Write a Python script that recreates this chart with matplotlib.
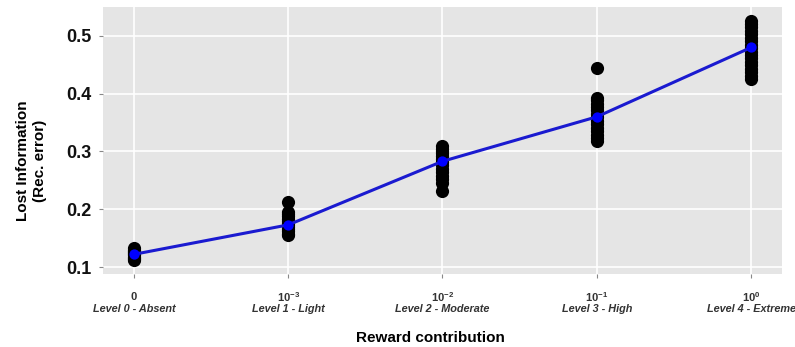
import numpy as np
import matplotlib.pyplot as plt

plt.rcParams['font.family'] = ['Liberation Sans', 'DejaVu Sans']
plt.rcParams['mathtext.fontset'] = 'custom'
plt.rcParams['mathtext.rm'] = 'Liberation Sans:bold'
plt.rcParams['mathtext.bf'] = 'Liberation Sans:bold'

# reward levels and tick text
powers = ['0', r'$\mathbf{10^{-3}}$', r'$\mathbf{10^{-2}}$', r'$\mathbf{10^{-1}}$', r'$\mathbf{10^{0}}$']
level_names = ['Level 0 - Absent', 'Level 1 - Light', 'Level 2 - Moderate',
               'Level 3 - High', 'Level 4 - Extreme']

# reconstruction error for each run, per level
lvl0 = [0.112, 0.114, 0.116, 0.118, 0.120, 0.122, 0.124, 0.126, 0.128, 0.130, 0.133]
lvl1 = [0.155, 0.158, 0.162, 0.166, 0.170, 0.173, 0.176, 0.180, 0.184, 0.188, 0.192, 0.196, 0.212]
lvl2 = [0.232, 0.245, 0.252, 0.258, 0.264, 0.270, 0.276, 0.282, 0.287, 0.292,
        0.297, 0.301, 0.305, 0.310]
lvl3 = [0.318, 0.323, 0.329, 0.335, 0.341, 0.347, 0.353, 0.359, 0.365, 0.371,
        0.377, 0.383, 0.389, 0.393, 0.445]
lvl4 = [0.425, 0.431, 0.437, 0.443, 0.449, 0.455, 0.461, 0.467, 0.473, 0.479,
        0.485, 0.491, 0.497, 0.503, 0.509, 0.515, 0.520, 0.525]
means = [0.122, 0.173, 0.283, 0.360, 0.480]

runs = [lvl0, lvl1, lvl2, lvl3, lvl4]
x = np.arange(len(runs))

fig = plt.figure(figsize=(7.95, 3.47), dpi=100)
ax = fig.add_axes([0.1296, 0.2104, 0.8540, 0.7694])
ax.set_facecolor('#e5e5e5')

ax.grid(True, color='white', linewidth=1.2)
ax.set_axisbelow(True)
for s in ax.spines.values():
    s.set_visible(False)

for i, vals in enumerate(runs):
    ax.scatter(np.full(len(vals), x[i]), vals, s=90, color='black', zorder=3, linewidths=0)

ax.plot(x, means, color='#1a1ad0', linewidth=2.2, zorder=4)
ax.scatter(x, means, s=55, color='#0000ff', zorder=5, linewidths=0)

ax.set_xlim(-0.2, 4.2)
ax.set_ylim(0.088, 0.55)
ax.set_yticks([0.1, 0.2, 0.3, 0.4, 0.5])
ax.set_yticklabels(['0.1', '0.2', '0.3', '0.4', '0.5'], fontsize=13, fontweight='bold', color='#111111')
ax.set_xticks(x)
ax.set_xticklabels([''] * len(x))
ax.tick_params(axis='both', length=3, color='#888888', width=0.8)
ax.tick_params(axis='y', pad=5)

trans = ax.get_xaxis_transform()
for i in range(len(x)):
    ax.text(x[i], -0.085, powers[i], transform=trans, ha='center', va='center',
            fontsize=8, fontweight='bold', color='#333333')
    ax.text(x[i], -0.13, level_names[i], transform=trans, ha='center', va='center',
            fontsize=7.8, fontweight='bold', fontstyle='italic', color='#333333')

ax.set_ylabel('Lost Information\n(Rec. error)', fontsize=11, fontweight='bold')
ax.yaxis.set_label_coords(-0.083, 0.423)
fig.text(0.541, 0.026, 'Reward contribution', ha='center', va='center',
         fontsize=11, fontweight='bold')

fig.savefig('out.png', dpi=100)
